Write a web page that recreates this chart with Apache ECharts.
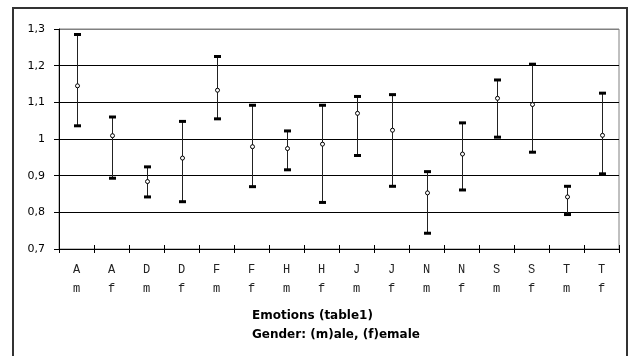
<!DOCTYPE html>
<html>
<head>
<meta charset="utf-8">
<script src="https://cdn.jsdelivr.net/npm/echarts@6/dist/echarts.min.js"></script>
<style>
html,body{margin:0;padding:0;background:#fff;}
#c{width:629px;height:356px;}
</style>
</head>
<body>
<div id="c"></div>
<script>
// Categories: emotion + gender
const emotions = ['A','A','D','D','F','F','H','H','J','J','N','N','S','S','T','T'];
const genders  = ['m','f','m','f','m','f','m','f','m','f','m','f','m','f','m','f'];
// Mean values and error bar limits
const means = [1.145,1.009,0.884,0.948,1.133,0.979,0.974,0.986,1.070,1.024,0.853,0.959,1.111,1.094,0.842,1.010];
const highs = [1.285,1.060,0.924,1.048,1.225,1.092,1.022,1.092,1.116,1.121,0.911,1.044,1.161,1.204,0.871,1.125];
const lows  = [1.036,0.893,0.842,0.829,1.055,0.870,0.916,0.827,0.955,0.871,0.743,0.861,1.005,0.964,0.794,0.905];
const yTicks = [0.7,0.8,0.9,1.0,1.1,1.2,1.3];

const categories = emotions.map((e,i)=>e+'\n'+genders[i]);
const data = means.map((m,i)=>[i, m, lows[i], highs[i]]);

const chart = echarts.init(document.getElementById('c'));
chart.setOption({
  animation:false,
  backgroundColor:'#fff',
  graphic:[{
    type:'rect', z:100, silent:true,
    shape:{x:13,y:8,width:614,height:400},
    style:{fill:'transparent',stroke:'#333',lineWidth:2}
  }],
  title:{
    text:'Emotions (table1)\nGender: (m)ale, (f)emale',
    left:252, top:306,
    padding:0,
    textStyle:{fontFamily:'DejaVu Sans',fontWeight:'bold',fontSize:12,color:'#000',lineHeight:19}
  },
  grid:{left:59,right:10,top:29,bottom:107,show:true,borderColor:'#808080',borderWidth:1,backgroundColor:'transparent'},
  xAxis:[{
    type:'category', data:categories, boundaryGap:true,
    axisLine:{lineStyle:{color:'#000',width:1}},
    axisTick:{show:true,length:4,inside:false,lineStyle:{color:'#000'}},
    axisLabel:{fontFamily:'Liberation Mono',fontSize:12,color:'#222',lineHeight:19,margin:11},
    splitLine:{show:false}
  },{
    type:'category', data:categories, boundaryGap:true, position:'bottom',
    axisLine:{show:false},
    axisTick:{show:true,length:4,inside:true,lineStyle:{color:'#000'}},
    axisLabel:{show:false}, splitLine:{show:false}
  }],
  yAxis:{
    type:'value', min:yTicks[0], max:yTicks[yTicks.length-1], interval:0.1,
    axisLine:{show:true,lineStyle:{color:'#000',width:1}},
    axisTick:{show:true,length:5,lineStyle:{color:'#000'}},
    axisLabel:{fontFamily:'DejaVu Sans',fontSize:11,color:'#000',margin:14,
      formatter:v=>String(+v.toFixed(1)).replace('.',',')},
    splitLine:{show:true,lineStyle:{color:['#000','#000','#000','#000','#000','#000','#808080'],width:1}}
  },
  series:[{
    type:'custom',
    data:data,
    encode:{x:0,y:[1,2,3]},
    renderItem:function(params,api){
      const x = api.coord([api.value(0), api.value(1)])[0];
      const ym = api.coord([api.value(0), api.value(1)])[1];
      const yl = api.coord([api.value(0), api.value(2)])[1];
      const yh = api.coord([api.value(0), api.value(3)])[1];
      const cx = Math.round(x)+0.5;
      return {type:'group',children:[
        {type:'line',shape:{x1:cx,y1:yh,x2:cx,y2:yl},style:{stroke:'#222',lineWidth:1}},
        {type:'rect',shape:{x:cx-3.5,y:yh-1.5,width:7,height:3},style:{fill:'#000'}},
        {type:'rect',shape:{x:cx-3.5,y:yl-1.5,width:7,height:3},style:{fill:'#000'}},
        {type:'circle',shape:{cx:cx,cy:ym,r:2},style:{fill:'#fff',stroke:'#000',lineWidth:1}}
      ]};
    }
  }]
});
</script>
</body>
</html>
